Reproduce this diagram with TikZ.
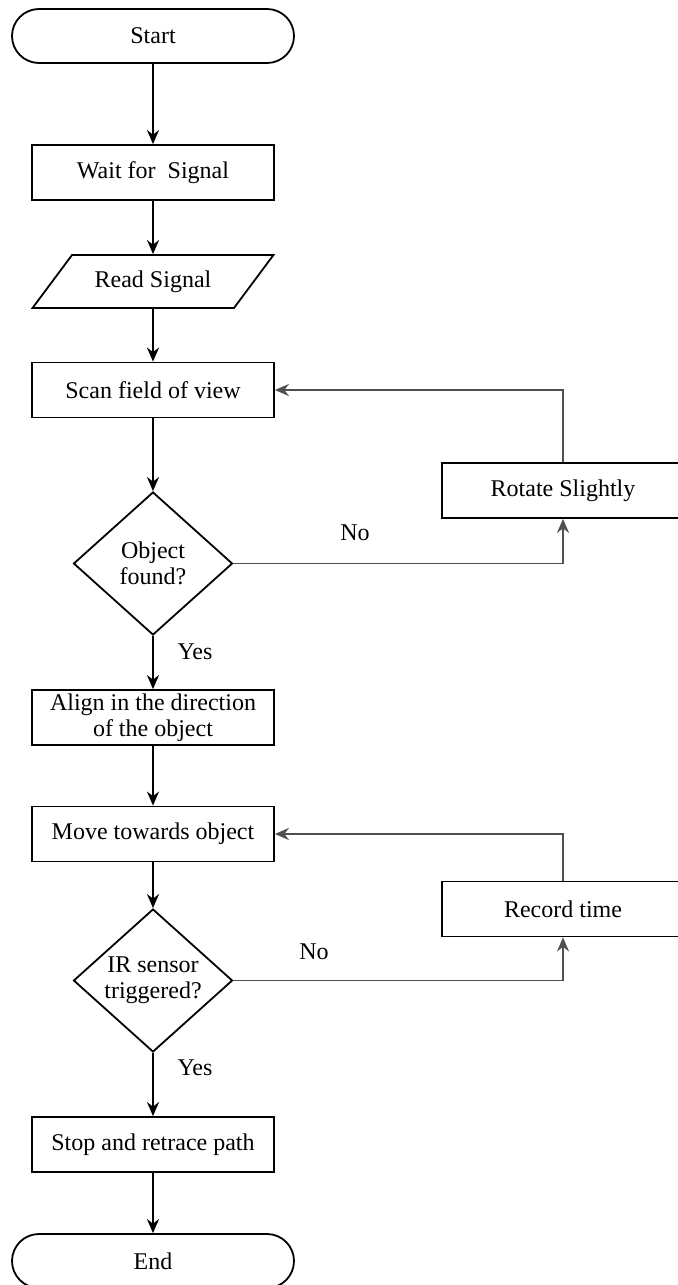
\documentclass[tikz,border=0pt]{standalone}
\usepackage{fontspec}
\setmainfont{Liberation Serif}
\usetikzlibrary{shapes.geometric,arrows.meta}
\definecolor{loopline}{HTML}{505050}

\begin{document}
\begin{tikzpicture}[x=0.5pt,y=-0.5pt,font=\fontsize{12}{13}\selectfont,line width=0.9pt,
  stadium/.style={draw,rectangle,rounded corners=13.5pt,minimum width=141pt,minimum height=27pt},
  stepbox/.style={draw,rectangle,minimum width=121pt,minimum height=27.5pt,inner sep=1pt,align=center},
  iobox/.style={draw,trapezium,trapezium left angle=48,trapezium right angle=132,trapezium stretches=true,minimum width=121pt,minimum height=26.5pt},
  choice/.style={draw,diamond,aspect=1.1,inner sep=0pt,minimum width=79.5pt,minimum height=71.5pt,align=center},
  flow/.style={-{Stealth[length=7pt,width=6pt]}},
  back/.style={flow,draw=loopline}]
\useasboundingbox (0,0) rectangle (678,1285);
\node[stadium] (start) at (153,36) {Start};
\node[stepbox] (wait) at (153,172.5) {Wait for~ Signal};
\node[iobox] (read) at (153,281.5) {Read Signal};
\node[stepbox] (scan) at (153,390) {Scan field of view};
\node[choice] (found) at (153,563.5) {Object\\found?};
\node[stepbox] (rotate) at (563,490.5) {Rotate Slightly};
\node[stepbox] (align) at (153,717.5) {Align in the direction\\of the object};
\node[stepbox] (move) at (153,834) {Move towards object};
\node[choice] (ir) at (153,980.5) {IR sensor\\triggered?};
\node[stepbox] (record) at (563,909) {Record time};
\node[stepbox] (stop) at (153,1144.5) {Stop and retrace path};
\node[stadium] (end) at (153,1261) {End};
% branch labels
\node (no1) at (355,533) {No};
\node (yes1) at (195,652) {Yes};
\node (no2) at (314,952) {No};
\node (yes2) at (195,1068) {Yes};
% main line
\draw[flow] (start) -- (wait);
\draw[flow] (wait) -- (read);
\draw[flow] (read) -- (scan);
\draw[flow] (scan) -- (found);
\draw[flow] (found) -- (align);
\draw[flow] (align) -- (move);
\draw[flow] (move) -- (ir);
\draw[flow] (ir) -- (stop);
\draw[flow] (stop) -- (end);
% loops
\draw[back] (found.east) -| (rotate.south);
\draw[back] (rotate.north) |- (scan.east);
\draw[back] (ir.east) -| (record.south);
\draw[back] (record.north) |- (move.east);
\end{tikzpicture}
\end{document}
